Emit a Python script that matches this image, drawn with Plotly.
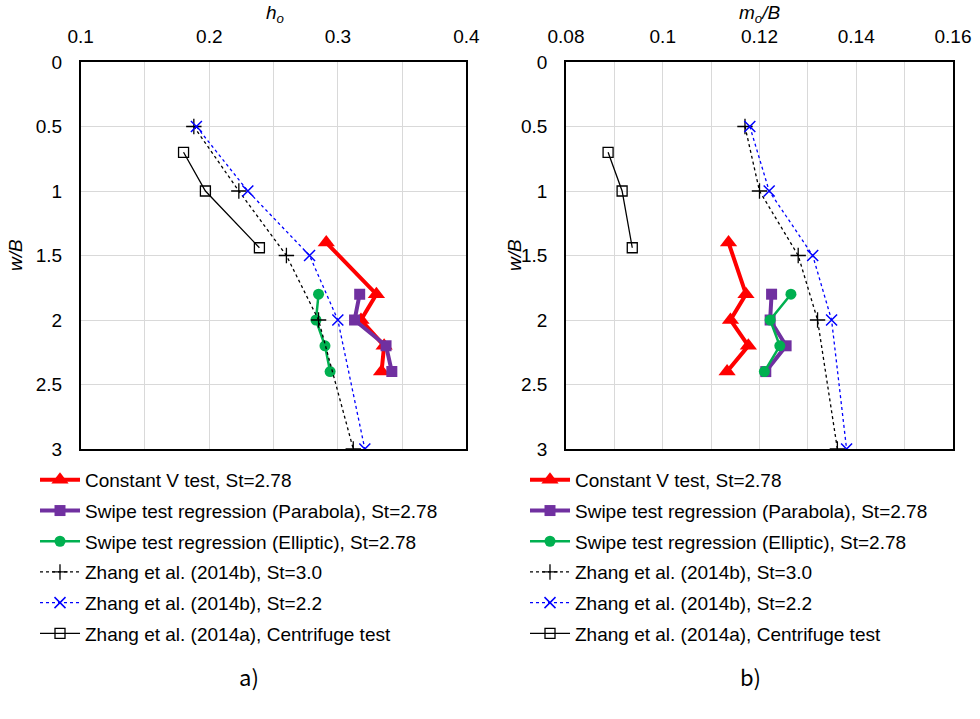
import plotly.graph_objects as go

# ---------------- data ----------------
cv_w = [1.4, 1.8, 2.0, 2.2, 2.4]
cv_h = [0.291, 0.330, 0.318, 0.336, 0.334]
cv_m = [0.1136, 0.1172, 0.1140, 0.1177, 0.1133]

par_w = [1.8, 2.0, 2.2, 2.4]
par_h = [0.317, 0.313, 0.3375, 0.342]
par_m = [0.1225, 0.1222, 0.1255, 0.1213]

ell_w = [1.8, 2.0, 2.2, 2.4]
ell_h = [0.285, 0.283, 0.290, 0.294]
ell_m = [0.1265, 0.1222, 0.1242, 0.1210]

z30_w = [0.5, 1.0, 1.5, 2.0, 3.0]
z30_h = [0.188, 0.223, 0.260, 0.285, 0.312]
z30_m = [0.1170, 0.1200, 0.1280, 0.1320, 0.1361]

z22_w = [0.5, 1.0, 1.5, 2.0, 3.0]
z22_h = [0.190, 0.230, 0.278, 0.300, 0.321]
z22_m = [0.1180, 0.1220, 0.1310, 0.1349, 0.1380]

cent_w = [0.7, 1.0, 1.44]
cent_h = [0.180, 0.197, 0.239]
cent_m = [0.0887, 0.0916, 0.0937]

names = ["Constant V test, St=2.78",
         "Swipe test regression (Parabola), St=2.78",
         "Swipe test regression (Elliptic), St=2.78",
         "Zhang et al. (2014b), St=3.0",
         "Zhang et al. (2014b), St=2.2",
         "Zhang et al. (2014a), Centrifuge test"]

styles = [
    dict(line=dict(color="#FF0000", width=4),
         marker=dict(symbol="triangle-up", size=15, color="#FF0000")),
    dict(line=dict(color="#7030A0", width=4),
         marker=dict(symbol="square", size=11, color="#7030A0")),
    dict(line=dict(color="#00B050", width=2.5),
         marker=dict(symbol="circle", size=11, color="#00B050")),
    dict(line=dict(color="#000000", width=1.3, dash="3px,3px"),
         marker=dict(symbol="cross-thin", size=11, color="#000000",
                     line=dict(color="#000000", width=1.3))),
    dict(line=dict(color="#0000FF", width=1.3, dash="3px,3px"),
         marker=dict(symbol="x-thin", size=11, color="#0000FF",
                     line=dict(color="#0000FF", width=1.5))),
    dict(line=dict(color="#000000", width=1.3),
         marker=dict(symbol="square-open", size=10, color="#000000",
                     line=dict(color="#000000", width=1.3))),
]

left_sets = [(cv_h, cv_w), (par_h, par_w), (ell_h, ell_w),
             (z30_h, z30_w), (z22_h, z22_w), (cent_h, cent_w)]
right_sets = [(cv_m, cv_w), (par_m, par_w), (ell_m, ell_w),
              (z30_m, z30_w), (z22_m, z22_w), (cent_m, cent_w)]

fig = go.Figure()
for i, (xs, ys) in enumerate(left_sets):
    fig.add_trace(go.Scatter(x=xs, y=ys, mode="lines+markers", name=names[i],
                             xaxis="x", yaxis="y", legend="legend",
                             legendgroup="L%d" % i, **styles[i]))
for i, (xs, ys) in enumerate(right_sets):
    fig.add_trace(go.Scatter(x=xs, y=ys, mode="lines+markers", name=names[i],
                             xaxis="x2", yaxis="y2", legend="legend2",
                             legendgroup="R%d" % i, **styles[i]))

W, H = 980, 719
font = "Liberation Sans, Arial, sans-serif"
grid = "#D9D9D9"

def xax(domain, rng, dtick, mdtick, anchor):
    return dict(domain=domain, range=rng, side="top", anchor=anchor,
                dtick=dtick, tick0=rng[0], showgrid=True, gridcolor=grid, gridwidth=1,
                minor=dict(dtick=mdtick, showgrid=True, gridcolor=grid, gridwidth=1, ticks=""),
                showline=True, linecolor="#000000", linewidth=1.5, mirror=True,
                ticks="", ticklabelstandoff=10, zeroline=False, automargin=False,
                tickfont=dict(family=font, size=19, color="#000000"))

def yax(domain, anchor):
    return dict(domain=domain, range=[3, 0], anchor=anchor, dtick=0.5,
                showgrid=True, gridcolor=grid, gridwidth=1,
                showline=True, linecolor="#000000", linewidth=1.5, mirror=True,
                ticks="", ticklabelstandoff=13, zeroline=False, automargin=False,
                tickfont=dict(family=font, size=19, color="#000000"))

ydom = [1 - 449 / H, 1 - 62 / H]
fig.update_layout(
    width=W, height=H, margin=dict(l=0, r=0, t=0, b=0, autoexpand=False),
    plot_bgcolor="white", paper_bgcolor="white",
    xaxis=xax([80.7 / W, 466.4 / W], [0.1, 0.4], 0.1, 0.05, "y"),
    yaxis=yax(ydom, "x"),
    xaxis2=xax([566 / W, 953 / W], [0.08, 0.16], 0.02, 0.01, "y2"),
    yaxis2=yax(ydom, "x2"),
    legend=dict(x=35 / W, y=1 - 461 / H, xanchor="left", yanchor="top",
                font=dict(family=font, size=19, color="#000000"),
                tracegroupgap=3, bgcolor="rgba(0,0,0,0)", itemwidth=40),
    legend2=dict(x=525 / W, y=1 - 461 / H, xanchor="left", yanchor="top",
                 font=dict(family=font, size=19, color="#000000"),
                 tracegroupgap=3, bgcolor="rgba(0,0,0,0)", itemwidth=40),
    showlegend=True,
)

ann_font = dict(family=font, size=19, color="#000000")
def ann(x, y, text, font, angle=0):
    fig.add_annotation(x=x / W, y=1 - y / H, xref="paper", yref="paper",
                       xanchor="center", yanchor="middle", text=text,
                       showarrow=False, textangle=angle, font=font)

ann(275, 14, "<i>h<sub>o</sub></i>", ann_font)
ann(760, 14, "<i>m<sub>o</sub>/B</i>", ann_font)
ann(16, 255, "<i>w/B</i>", ann_font, -90)
ann(515, 255, "<i>w/B</i>", ann_font, -90)
lab_font = dict(family="Noto Sans CJK KR, sans-serif", size=22, color="#000000")
ann(249, 676, "a)", lab_font)
ann(750, 676, "b)", lab_font)

fig.write_html("out.html")
